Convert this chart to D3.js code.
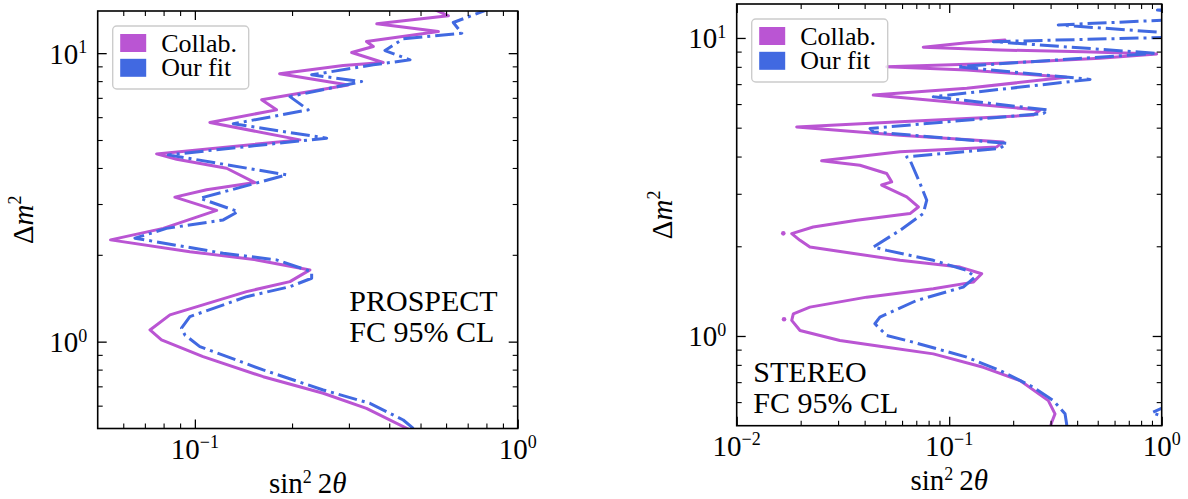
<!DOCTYPE html>
<html><head><meta charset="utf-8">
<script src="https://cdn.jsdelivr.net/npm/d3@7"></script>
<style>
body{margin:0;background:#fff;}
svg text{font-family:"Liberation Serif","Times New Roman",serif;fill:#000;}
</style></head><body>
<svg id="chart" width="1188" height="499"></svg>
<script>
// ---------------- data ----------------
const seriesNames = ["Collab.", "Our fit"];
const seriesColors = ["#BA55D3", "#4169E1"];

const prospectXTicks = [0.1, 1];
const prospectXTickExp = ["\u22121", "0"];
const prospectYTicks = [1, 10];
const prospectYTickExp = ["0", "1"];
const stereoXTicks = [0.01, 0.1, 1];
const stereoXTickExp = ["\u22122", "\u22121", "0"];
const stereoYTicks = [1, 10];
const stereoYTickExp = ["0", "1"];

const prospectNote = ["PROSPECT", "FC 95% CL"];
const stereoNote = ["STEREO", "FC 95% CL"];

// [sin^2 2theta, dm^2]
const prospectCollab = [
 [0.535,14.4],[0.610,13.47],[0.366,12.64],[0.568,11.88],[0.340,10.97],[0.357,10.54],
 [0.306,10.05],[0.383,9.28],[0.288,9.06],[0.183,8.48],[0.2985,7.76],[0.161,6.89],
 [0.179,6.36],[0.1113,5.75],[0.2115,5.005],[0.0761,4.475],[0.0878,4.29],[0.1254,3.99],
 [0.1535,3.56],[0.1087,3.36],[0.0867,3.17],[0.1168,2.85],[0.0798,2.47],[0.0548,2.253],
 [0.0965,2.051],[0.1553,1.92],[0.2272,1.773],[0.197,1.615],[0.1446,1.491],[0.0837,1.238],
 [0.0726,1.098],[0.0788,1.014],[0.106,0.887],[0.1628,0.756],[0.2498,0.6625],[0.340,0.5875],
 [0.453,0.5008],[0.486,0.481]
];
const prospectFit = [
 [0.84,14.4],[0.6316,12.77],[0.671,11.73],[0.442,11.21],[0.388,10.21],[0.464,9.48],
 [0.357,9.11],[0.230,8.41],[0.3285,7.97],[0.197,7.07],[0.2245,6.36],[0.1315,5.69],
 [0.256,5.075],[0.0827,4.44],[0.1924,3.785],[0.1036,3.14],[0.1362,2.824],[0.1224,2.642],
 [0.0817,2.47],[0.0652,2.284],[0.1224,2.025],[0.179,1.92],[0.23,1.748],[0.23,1.659],
 [0.197,1.551],[0.1446,1.432],[0.0965,1.221],[0.0909,1.113],[0.0931,1.055],[0.1036,0.961],
 [0.1628,0.798],[0.2498,0.68],[0.3485,0.6114],[0.442,0.535],[0.4748,0.5008],[0.49,0.485]
];

const stereoCollab = [
 [0.183,9.85],[0.121,9.64],[0.0755,9.31],[0.1734,9.11],[0.4276,8.99],[0.947,8.84],
 [0.5125,8.55],[0.1734,8.22],[0.0508,8.01],[0.121,7.81],[0.357,7.38],[0.121,6.78],
 [0.0439,6.43],[0.121,6.03],[0.2675,5.73],[0.2488,5.51],[0.0587,5.23],[0.01916,5.03],
 [0.0587,4.72],[0.1798,4.48],[0.1674,4.31],[0.0587,4.15],[0.0251,3.87],[0.038,3.74],
 [0.0508,3.51],[0.0536,3.29],[0.0481,3.21],[0.0631,2.93],[0.0716,2.71],[0.0654,2.575],
 [0.0367,2.445],[0.0229,2.32],[0.01815,2.206],[0.01986,2.094],[0.0221,1.988],[0.0587,1.794],
 [0.1124,1.703],[0.1422,1.618],[0.1298,1.516],[0.0842,1.441],[0.0409,1.35],[0.0221,1.25],
 [0.01847,1.187],[0.01815,1.128],[0.01986,1.043],[0.0306,0.966],[0.0508,0.917],[0.0842,0.871],
 [0.1447,0.785],[0.2155,0.7086],[0.2927,0.607],[0.3147,0.548],[0.3037,0.5133],[0.298,0.49]
];
const stereoCollabDots = [[0.01657,2.21],[0.0167,1.138]];
const stereoFit = [
 [1.1,10.05],[0.1612,9.72],[0.947,8.88],[0.1085,8.01],[0.46,7.26],[0.0842,6.35],
 [0.2927,5.73],[0.2772,5.58],[0.0424,4.97],[0.0439,4.84],[0.1865,4.43],[0.1734,4.26],
 [0.0631,3.99],[0.0654,3.89],[0.0729,3.25],[0.0784,2.855],[0.0755,2.575],[0.0587,2.262],
 [0.0439,1.988],[0.0508,1.938],[0.0842,1.794],[0.121,1.66],[0.1322,1.576],[0.1165,1.459],
 [0.0703,1.316],[0.0472,1.157],[0.0447,1.099],[0.0508,1.004],[0.0678,0.953],[0.121,0.849],
 [0.1734,0.766],[0.2488,0.673],[0.309,0.607],[0.3508,0.548],[0.357,0.507],[0.357,0.49]
];
const stereoFitTopA = [[1.1,12.45],[0.955,12.4],[1.1,12.3]];
const stereoFitTopB = [[1.1,11.5],[0.326,11.06],[1.1,10.39]];
const stereoFitCorner = [[1.1,0.59],[0.90,0.553],[1.1,0.525]];

// ---------------- layout ----------------
const panels = [
 {x0:97.7, x1:517.7, y0:11, y1:428.5, xDomain:[0.05,1], yDomain:[0.5,14],
  xTicks:prospectXTicks, xExp:prospectXTickExp, yTicks:prospectYTicks, yExp:prospectYTickExp,
  collab:[prospectCollab], dots:[], fit:[prospectFit],
  note:prospectNote, noteX:349.3, noteY:[311,341.7]},
 {x0:736.7, x1:1161.7, y0:4, y1:425.7, xDomain:[0.01,1], yDomain:[0.5,13],
  xTicks:stereoXTicks, xExp:stereoXTickExp, yTicks:stereoYTicks, yExp:stereoYTickExp,
  collab:[stereoCollab], dots:stereoCollabDots, fit:[stereoFit, stereoFitTopA, stereoFitTopB, stereoFitCorner],
  note:stereoNote, noteX:753.3, noteY:[381.7,413.3]}
];

const svg = d3.select("#chart");
const TICK_FS = 29, SUP_FS = 18, SUP_DY = 10.5;

function minorTicks([a,b]) {
  const out = [];
  for (let k = Math.floor(Math.log10(a)); k <= Math.ceil(Math.log10(b)); k++)
    for (let m = 2; m <= 9; m++) {
      const v = m * Math.pow(10, k);
      if (v > a * 1.001 && v < b * 0.999) out.push(v);
    }
  return out;
}
function styleAxis(sel, w) {
  sel.select(".domain").remove();
  sel.selectAll(".tick line").attr("stroke", "#000").attr("stroke-width", w);
  sel.selectAll(".tick text").remove();
}
function powText(g, x, y, exp, anchor) {
  const t = g.append("text").attr("x", x).attr("y", y).attr("text-anchor", anchor)
    .attr("font-size", TICK_FS);
  t.append("tspan").text("10");
  t.append("tspan").attr("dy", -SUP_DY).attr("font-size", SUP_FS).text(exp);
}

panels.forEach((p, i) => {
  const x = d3.scaleLog().domain(p.xDomain).range([p.x0, p.x1]);
  const y = d3.scaleLog().domain(p.yDomain).range([p.y1, p.y0]);
  const g = svg.append("g");
  const clipId = "clip" + i;
  g.append("clipPath").attr("id", clipId).append("rect")
    .attr("x", p.x0).attr("y", p.y0).attr("width", p.x1 - p.x0).attr("height", p.y1 - p.y0);

  const line = d3.line().x(d => x(d[0])).y(d => y(d[1]));
  const plot = g.append("g").attr("clip-path", `url(#${clipId})`);
  p.collab.forEach(s => plot.append("path").attr("d", line(s)).attr("fill", "none")
    .attr("stroke", seriesColors[0]).attr("stroke-width", 3).attr("stroke-linejoin", "round")
    .attr("stroke-linecap", "round"));
  plot.selectAll(".dot").data(p.dots).enter().append("circle")
    .attr("cx", d => x(d[0])).attr("cy", d => y(d[1])).attr("r", 2.3).attr("fill", seriesColors[0]);
  p.fit.forEach(s => plot.append("path").attr("d", line(s)).attr("fill", "none")
    .attr("stroke", seriesColors[1]).attr("stroke-width", 3).attr("stroke-linejoin", "round")
    .attr("stroke-dasharray", "19,5,3,5"));

  // axes (ticks inward, all four sides)
  const xMinor = minorTicks(p.xDomain), yMinor = minorTicks(p.yDomain);
  const mk = (axisFn, scale, vals, size, tr, w) =>
    g.append("g").attr("transform", tr)
      .call(axisFn(scale).tickValues(vals).tickSize(-size).tickFormat(""))
      .call(s => styleAxis(s, w));
  mk(d3.axisBottom, x, p.xTicks, 9, `translate(0,${p.y1})`, 1.3);
  mk(d3.axisBottom, x, xMinor, 5, `translate(0,${p.y1})`, 1.1);
  mk(d3.axisTop, x, p.xTicks, 9, `translate(0,${p.y0})`, 1.3);
  mk(d3.axisTop, x, xMinor, 5, `translate(0,${p.y0})`, 1.1);
  mk(d3.axisLeft, y, p.yTicks, 9, `translate(${p.x0},0)`, 1.3);
  mk(d3.axisLeft, y, yMinor, 5, `translate(${p.x0},0)`, 1.1);
  mk(d3.axisRight, y, p.yTicks, 9, `translate(${p.x1},0)`, 1.3);
  mk(d3.axisRight, y, yMinor, 5, `translate(${p.x1},0)`, 1.1);

  g.append("rect").attr("x", p.x0).attr("y", p.y0).attr("width", p.x1 - p.x0)
    .attr("height", p.y1 - p.y0).attr("fill", "none").attr("stroke", "#000").attr("stroke-width", 1.6);

  // tick labels
  p.xTicks.forEach((v, k) => powText(g, x(v), p.y1 + 30, p.xExp[k], "middle"));
  p.yTicks.forEach((v, k) => powText(g, p.x0 - 10.5, y(v) + 10.5, p.yExp[k], "end"));

  // axis labels
  const xl = g.append("text").attr("x", (p.x0 + p.x1) / 2).attr("y", p.y1 + 64.5)
    .attr("text-anchor", "middle").attr("font-size", 29);
  xl.append("tspan").text("sin");
  xl.append("tspan").attr("dy", -SUP_DY).attr("font-size", SUP_FS).text("2");
  xl.append("tspan").attr("dy", SUP_DY).text("\u20092");
  xl.append("tspan").attr("font-style", "italic").text("\u03B8");

  const yl = g.append("text")
    .attr("transform", `translate(${p.x0 - 64.5},${(p.y0 + p.y1) / 2}) rotate(-90)`)
    .attr("text-anchor", "middle").attr("font-size", 29);
  yl.append("tspan").text("\u0394");
  yl.append("tspan").attr("font-style", "italic").text("m");
  yl.append("tspan").attr("dy", -SUP_DY - 2).attr("font-size", SUP_FS).text("2");

  // note
  p.note.forEach((s, k) => g.append("text").attr("x", p.noteX).attr("y", p.noteY[k])
    .attr("font-size", 30).text(s));

  // legend
  const lg = g.append("g");
  lg.append("rect").attr("x", p.x0 + 15).attr("y", p.y0 + 15).attr("width", 136).attr("height", 63)
    .attr("rx", 4).attr("fill", "#fff").attr("fill-opacity", 0.8)
    .attr("stroke", "#cccccc").attr("stroke-width", 1.4);
  seriesNames.forEach((n, k) => {
    lg.append("rect").attr("x", p.x0 + 22.5).attr("y", p.y0 + 23 + 24.8 * k)
      .attr("width", 26).attr("height", 18).attr("fill", seriesColors[k]);
    lg.append("text").attr("x", p.x0 + 63.5).attr("y", p.y0 + 40.5 + 24.8 * k)
      .attr("font-size", 26).text(n);
  });
});
</script>
</body></html>
